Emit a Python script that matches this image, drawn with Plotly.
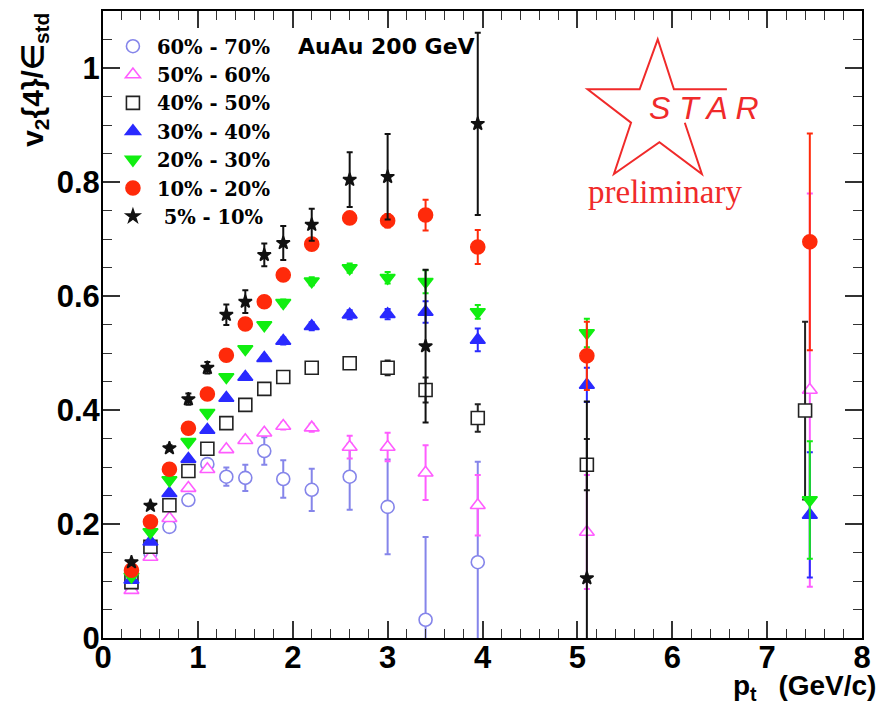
import plotly.graph_objects as go

# ---------------- data ----------------
pt_bins = [0.3, 0.5, 0.7, 0.9, 1.1, 1.3, 1.5, 1.7, 1.9, 2.2, 2.6, 3.0, 3.4, 3.95]
pt_hi_a = [5.1, 7.45]
pt_hi_b = [5.1, 7.4]

labels = ["60% - 70%", "50% - 60%", "40% - 50%", "30% - 40%",
          "20% - 30%", "10% - 20%", "\u00a05% - 10%"]

x_6070 = pt_bins
y_6070 = [0.090, 0.149, 0.195, 0.242, 0.305, 0.283, 0.281, 0.328, 0.279, 0.260, 0.283, 0.230, 0.032, 0.133]
e_6070 = [0.003, 0.004, 0.005, 0.006, 0.008, 0.016, 0.023, 0.024, 0.033, 0.037, 0.058, 0.083, 0.145, 0.176]

x_5060 = pt_bins + pt_hi_a
y_5060 = [0.084, 0.142, 0.210, 0.263, 0.296, 0.331, 0.347, 0.360, 0.372, 0.369, 0.335, 0.335, 0.290, 0.233, 0.186, 0.435]
e_5060 = [0.002, 0.002, 0.003, 0.003, 0.004, 0.004, 0.005, 0.005, 0.006, 0.007, 0.020, 0.025, 0.048, 0.053, 0.100, 0.345]

x_4050 = pt_bins + pt_hi_b
y_4050 = [0.098, 0.160, 0.233, 0.293, 0.332, 0.377, 0.409, 0.437, 0.458, 0.474, 0.482, 0.474, 0.435, 0.386, 0.304, 0.399]
e_4050 = [0.001, 0.001, 0.002, 0.002, 0.002, 0.003, 0.003, 0.003, 0.004, 0.004, 0.006, 0.013, 0.022, 0.024, 0.045, 0.156]

x_3040 = pt_bins + pt_hi_a
y_3040 = [0.102, 0.169, 0.254, 0.314, 0.365, 0.421, 0.458, 0.491, 0.521, 0.547, 0.567, 0.568, 0.572, 0.523, 0.444, 0.216]
e_3040 = [0.002, 0.002, 0.003, 0.003, 0.004, 0.004, 0.005, 0.005, 0.006, 0.007, 0.008, 0.009, 0.019, 0.020, 0.030, 0.110]

x_2030 = pt_bins + pt_hi_a
y_2030 = [0.108, 0.186, 0.277, 0.344, 0.395, 0.458, 0.507, 0.549, 0.588, 0.626, 0.649, 0.632, 0.625, 0.572, 0.535, 0.242]
e_2030 = [0.002, 0.002, 0.003, 0.003, 0.004, 0.004, 0.005, 0.005, 0.006, 0.007, 0.008, 0.010, 0.020, 0.012, 0.025, 0.103]

x_1020 = pt_bins + pt_hi_a
y_1020 = [0.119, 0.204, 0.296, 0.368, 0.428, 0.496, 0.551, 0.590, 0.637, 0.691, 0.737, 0.732, 0.742, 0.686, 0.495, 0.695]
e_1020 = [0.002, 0.002, 0.003, 0.003, 0.004, 0.004, 0.005, 0.005, 0.006, 0.007, 0.008, 0.012, 0.027, 0.030, 0.060, 0.190]

x_0510 = pt_bins + [5.1]
y_0510 = [0.133, 0.232, 0.333, 0.419, 0.474, 0.567, 0.590, 0.672, 0.693, 0.725, 0.804, 0.809, 0.512, 0.902, 0.105]
e_0510 = [0.003, 0.004, 0.005, 0.010, 0.010, 0.018, 0.020, 0.020, 0.030, 0.028, 0.048, 0.075, 0.134, 0.160, 0.310]

x_ticks = [0, 1, 2, 3, 4, 5, 6, 7, 8]
y_ticks = [0, 0.2, 0.4, 0.6, 0.8, 1.0]
y_ticktext = ["0", "0.2", "0.4", "0.6", "0.8", "1"]

# (x, y, err, name, symbol, line colour, fill colour, size)
series = [
    (x_6070, y_6070, e_6070, labels[0], "circle", "#8585ea", "white", 13),
    (x_5060, y_5060, e_5060, labels[1], "triangle-up", "#ff5cff", "white", 13),
    (x_4050, y_4050, e_4050, labels[2], "square", "#222222", "white", 13),
    (x_3040, y_3040, e_3040, labels[3], "triangle-up", "#2a2aff", "#2a2aff", 13),
    (x_2030, y_2030, e_2030, labels[4], "triangle-down", "#11ee11", "#11ee11", 13),
    (x_1020, y_1020, e_1020, labels[5], "circle", "#ff2a0a", "#ff2a0a", 14),
    (x_0510, y_0510, e_0510, labels[6], "star", "#111111", "#111111", 10),
]

# ---------------- layout geometry ----------------
W, H = 879, 714
L, R, T, B = 103, 8, 11, 76
PW, PH = W - L - R, H - T - B


def px(xp):
    return (xp - L) / PW


def py(yp):
    return (H - B - yp) / PH


fig = go.Figure()
for xs, ys, es, name, sym, col, fill, sz in series:
    fig.add_trace(go.Scatter(
        x=xs, y=ys, name=name, mode="markers",
        marker=dict(symbol=sym, size=sz, color=fill,
                    line=dict(color=col, width=1.6)),
        error_y=dict(type="data", array=es, visible=True, color=col,
                     thickness=2, width=3),
        cliponaxis=True,
    ))

axis_common = dict(
    showgrid=False, zeroline=False, showline=True, linecolor="black",
    linewidth=2, mirror="allticks", ticks="inside", ticklen=17, tickwidth=1.5,
    tickcolor="#333333",
    tickfont=dict(family="Liberation Sans", size=31, color="black", weight="bold"),
)

fig.update_xaxes(range=[0, 8], tickvals=x_ticks, ticklabelstandoff=-9,
                 minor=dict(ticks="inside", dtick=0.2, ticklen=9, tickwidth=1.2,
                            tickcolor="#333333"),
                 **axis_common)
fig.update_yaxes(range=[0, 1.1], tickvals=y_ticks, ticktext=y_ticktext,
                 ticklabelstandoff=-5,
                 minor=dict(ticks="inside", dtick=0.05, ticklen=9, tickwidth=1.2,
                            tickcolor="#333333"),
                 **axis_common)

star_pts = [(691.7, 122.7), (709, 174), (666, 142.3), (620, 174), (637.3, 122.7),
            (593.3, 89.3), (646, 89.3), (664.3, 39.3), (680.7, 89.3), (734.3, 89.3)]
path = "M " + " L ".join(f"{px(a):.5f},{py(b):.5f}" for a, b in star_pts)

fig.update_layout(
    width=W, height=H,
    margin=dict(l=L, r=R, t=T, b=B, pad=0),
    paper_bgcolor="white", plot_bgcolor="white",
    showlegend=True,
    legend=dict(x=px(109), y=py(27), xanchor="left", yanchor="top",
                bgcolor="rgba(0,0,0,0)", borderwidth=0, itemwidth=38,
                font=dict(family="DejaVu Serif", size=19.5, color="black", weight="bold"),
                itemclick=False),
    shapes=[dict(type="path", xref="paper", yref="paper", path=path,
                 line=dict(color="#f02a2a", width=2))],
    annotations=[
        dict(text="AuAu 200 GeV", xref="paper", yref="paper", x=px(298), y=py(47),
             xanchor="left", yanchor="middle", showarrow=False,
             font=dict(family="DejaVu Sans", size=22, color="black", weight="bold")),
        dict(text="<i>S T A R</i>", xref="paper", yref="paper", x=px(711), y=py(108),
             xanchor="center", yanchor="middle", showarrow=False,
             font=dict(family="Liberation Sans", size=32, color="#f02a2a")),
        dict(text="preliminary", xref="paper", yref="paper", x=px(672), y=py(192),
             xanchor="center", yanchor="middle", showarrow=False,
             font=dict(family="Liberation Serif", size=33, color="#f02a2a")),
        dict(text="v<sub>2</sub>{4}/\u2208<sub>std</sub>", xref="paper", yref="paper",
             x=px(33), y=py(11), xanchor="center", yanchor="top", textangle=-90,
             showarrow=False,
             font=dict(family="Liberation Sans", size=30, color="black", weight="bold")),
        dict(text="p<sub>t</sub>\u2002 (GeV/c)", xref="paper", yref="paper",
             x=px(887), y=py(668), xanchor="right", yanchor="top", showarrow=False,
             font=dict(family="Liberation Sans", size=28, color="black", weight="bold")),
    ],
)

fig.write_html("out.html")
